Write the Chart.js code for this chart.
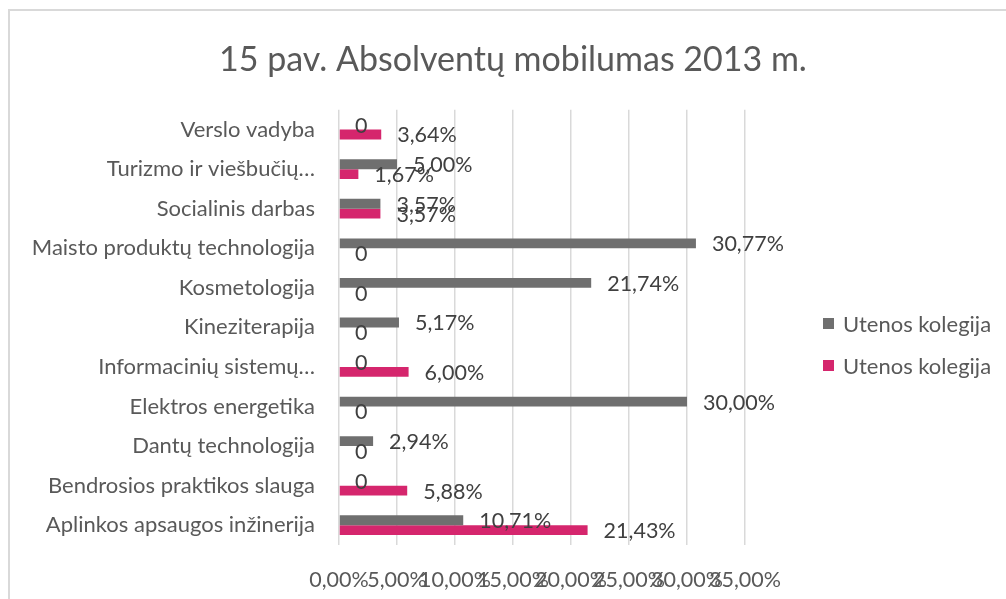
<!DOCTYPE html>
<html>
<head>
<meta charset="utf-8">
<script src="https://cdn.jsdelivr.net/npm/chart.js@4"></script>
<style>
  body { margin: 0; background: #fff; }
  #wrap { position: relative; width: 1006px; height: 599px; overflow: hidden; font-family: Lato, sans-serif; }
  #frame { position: absolute; left: 8px; top: 9px; width: 1200px; height: 800px;
           border-left: 2px solid #d9d9d9; border-top: 2px solid #d9d9d9; }
  #chart { position: absolute; left: 0; top: 0; }
  #legend { position: absolute; left: 823px; top: 302px; }
  .item { height: 42px; display: flex; align-items: center; color: #595959; font-size: 22px; }
  .box { width: 11px; height: 11px; margin-right: 9px; }
</style>
</head>
<body>
<div id="wrap">
  <div id="frame"></div>
  <canvas id="chart" width="1006" height="599"></canvas>
  <div id="legend"></div>
</div>
<script>
// categories top to bottom, values in %
const categories = [
    'Verslo vadyba',
    'Turizmo ir viešbučių…',
    'Socialinis darbas',
    'Maisto produktų technologija',
    'Kosmetologija',
    'Kineziterapija',
    'Informacinių sistemų…',
    'Elektros energetika',
    'Dantų technologija',
    'Bendrosios praktikos slauga',
    'Aplinkos apsaugos inžinerija'
];
const grayValues = [0, 5.00, 3.57, 30.77, 21.74, 5.17, 0, 30.00, 2.94, 0, 10.71];
const pinkValues = [3.64, 1.67, 3.57, 0, 0, 0, 6.00, 0, 0, 5.88, 21.43];
const seriesNames = ['Utenos kolegija', 'Utenos kolegija'];
const seriesColors = ['#6f6f6f', '#d5266d'];

function pct(v) {
    return v.toFixed(2).replace('.', ',') + '%';
}

// value labels next to the bar ends
const valueLabels = {
    id: 'valueLabels',
    afterDatasetsDraw(chart) {
        const ctx = chart.ctx;
        ctx.save();
        ctx.font = '21.5px Lato';
        ctx.fillStyle = '#404040';
        ctx.textAlign = 'left';
        ctx.textBaseline = 'middle';
        chart.data.datasets.forEach(function(ds, i) {
            chart.getDatasetMeta(i).data.forEach(function(bar, j) {
                const v = ds.data[j];
                const txt = v === 0 ? '0' : pct(v);
                ctx.fillText(txt, bar.x + 16, bar.y + 1);
            });
        });
        ctx.restore();
    }
};

var ctx = document.getElementById('chart');
var mobChart = new Chart(ctx, {
    type: 'bar',
    data: {
        labels: categories,
        datasets: [{
            label: seriesNames[0],
            data: grayValues,
            backgroundColor: seriesColors[0],
            categoryPercentage: 0.5,
            barPercentage: 1.0
        }, {
            label: seriesNames[1],
            data: pinkValues,
            backgroundColor: seriesColors[1],
            categoryPercentage: 0.5,
            barPercentage: 1.0
        }]
    },
    options: {
        indexAxis: 'y',
        responsive: false,
        animation: false,
        layout: { padding: { left: 20 } },
        plugins: {
            legend: { display: false },
            tooltip: { enabled: false },
            title: {
                display: true,
                text: '15 pav. Absolventų mobilumas 2013 m.',
                color: '#595959',
                font: { family: 'Lato', size: 34, weight: 'normal' },
                padding: { top: 40, bottom: 29 }
            }
        },
        scales: {
            x: {
                min: 0,
                max: 35,
                afterFit: function(s) { s.height = 54; },
                border: { display: false },
                grid: { color: '#d9d9d9', lineWidth: 1.5, drawTicks: false },
                ticks: {
                    stepSize: 5,
                    autoSkip: false,
                    maxRotation: 0,
                    padding: 22,
                    color: '#595959',
                    font: { family: 'Lato', size: 21.5 },
                    callback: function(v) { return pct(v); }
                }
            },
            y: {
                afterFit: function(s) { s.width = 319; },
                border: { display: false },
                grid: { display: false, drawTicks: false },
                ticks: {
                    padding: 24,
                    color: '#595959',
                    font: { family: 'Lato', size: 22 }
                }
            },
            // empty right-hand axis keeps room for the legend
            yRight: {
                axis: 'y',
                position: 'right',
                afterFit: function(s) { s.width = 261; },
                border: { display: false },
                grid: { display: false, drawTicks: false },
                ticks: { display: false }
            }
        }
    },
    plugins: [valueLabels]
});

// legend built from the datasets
const legendEl = document.getElementById('legend');
mobChart.data.datasets.forEach(function(ds) {
    const item = document.createElement('div');
    item.className = 'item';
    const box = document.createElement('span');
    box.className = 'box';
    box.style.background = ds.backgroundColor;
    item.appendChild(box);
    item.appendChild(document.createTextNode(ds.label));
    legendEl.appendChild(item);
});
</script>
</body>
</html>
